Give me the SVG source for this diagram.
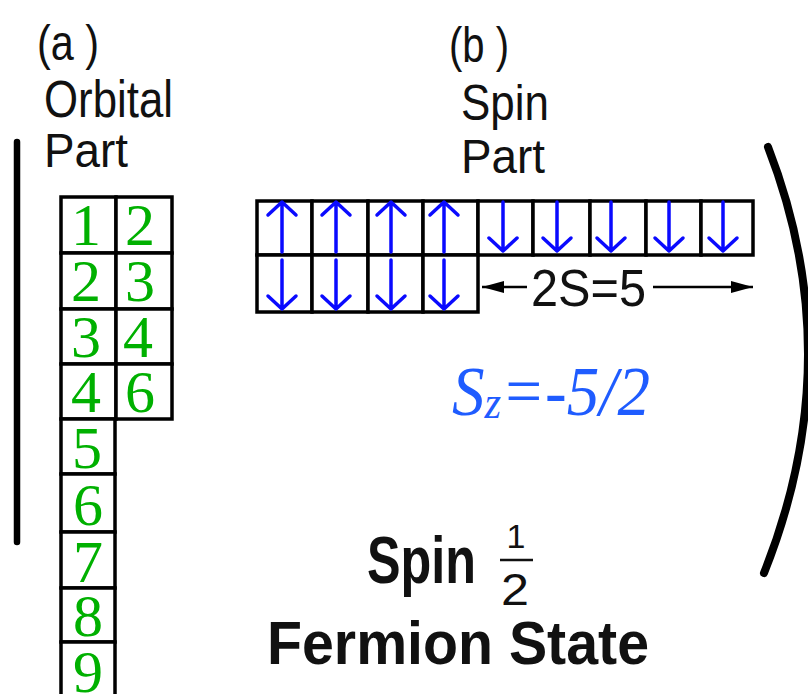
<svg xmlns="http://www.w3.org/2000/svg" width="808" height="694" viewBox="0 0 808 694">
<defs>
<style>
.lbl{font-family:"Liberation Sans","DejaVu Sans",sans-serif;fill:#111;}
.bold{font-family:"Liberation Sans","DejaVu Sans",sans-serif;font-weight:bold;fill:#111;}
.cell{fill:#fff;stroke:#000;stroke-width:3.5;}
.num{font-family:"Liberation Serif","Times New Roman",serif;font-size:60px;fill:#00b000;text-anchor:middle;}
.spin{stroke:#0a0aff;stroke-width:3.5;fill:none;stroke-linecap:round;stroke-linejoin:round;}
.dim{stroke:#000;stroke-width:2.5;fill:none;}
</style>
<marker id="ah2" viewBox="0 0 22 14" refX="22" refY="7" markerWidth="22" markerHeight="14" markerUnits="userSpaceOnUse" orient="auto">
<path d="M0,1 L22,7 L0,13 Z" fill="#000"/>
</marker>
</defs>
<rect width="808" height="694" fill="#fff"/>

<g id="labels">
<text class="lbl" x="37" y="60" font-size="50" textLength="62" lengthAdjust="spacingAndGlyphs">(a )</text>
<text class="lbl" x="44" y="117" font-size="52" textLength="129" lengthAdjust="spacingAndGlyphs">Orbital</text>
<text class="lbl" x="44" y="167" font-size="48" textLength="84" lengthAdjust="spacingAndGlyphs">Part</text>
<text class="lbl" x="449" y="62" font-size="50" textLength="60" lengthAdjust="spacingAndGlyphs">(b )</text>
<text class="lbl" x="461" y="120" font-size="50" textLength="88" lengthAdjust="spacingAndGlyphs">Spin</text>
<text class="lbl" x="461" y="173" font-size="48" textLength="84" lengthAdjust="spacingAndGlyphs">Part</text>
</g>

<g id="left-bar">
<line x1="17" y1="142" x2="17" y2="542" stroke="#000" stroke-width="6.5" stroke-linecap="round"/>
</g>

<g id="orbital-part">
<rect class="cell" x="61" y="197" width="55" height="56"/>
<rect class="cell" x="116" y="197" width="56" height="56"/>
<rect class="cell" x="61" y="253" width="55" height="56"/>
<rect class="cell" x="116" y="253" width="56" height="56"/>
<rect class="cell" x="61" y="309" width="55" height="55"/>
<rect class="cell" x="116" y="309" width="56" height="55"/>
<rect class="cell" x="61" y="364" width="55" height="55"/>
<rect class="cell" x="116" y="364" width="56" height="55"/>
<rect class="cell" x="61" y="419" width="54" height="55"/>
<rect class="cell" x="61" y="474" width="54" height="58"/>
<rect class="cell" x="61" y="532" width="54" height="56"/>
<rect class="cell" x="61" y="588" width="54" height="54"/>
<rect class="cell" x="61" y="642" width="54" height="60"/>
<text class="num" x="86" y="245">1</text>
<text class="num" x="140" y="245">2</text>
<text class="num" x="86" y="301">2</text>
<text class="num" x="140" y="301">3</text>
<text class="num" x="86" y="357">3</text>
<text class="num" x="138" y="357">4</text>
<text class="num" x="86" y="412">4</text>
<text class="num" x="140" y="412">6</text>
<text class="num" x="87" y="468">5</text>
<text class="num" x="88" y="525">6</text>
<text class="num" x="88" y="582">7</text>
<text class="num" x="88" y="636">8</text>
<text class="num" x="88" y="692">9</text>
</g>

<g id="spin-part">
<rect class="cell" x="257" y="201" width="55" height="54"/>
<rect class="cell" x="312" y="201" width="56" height="54"/>
<rect class="cell" x="368" y="201" width="55" height="54"/>
<rect class="cell" x="423" y="201" width="55" height="54"/>
<rect class="cell" x="478" y="201" width="55" height="54"/>
<rect class="cell" x="533" y="201" width="57" height="54"/>
<rect class="cell" x="590" y="201" width="56" height="54"/>
<rect class="cell" x="646" y="201" width="55" height="54"/>
<rect class="cell" x="701" y="201" width="52" height="54"/>
<rect class="cell" x="257" y="255" width="55" height="57"/>
<rect class="cell" x="312" y="255" width="56" height="57"/>
<rect class="cell" x="368" y="255" width="55" height="57"/>
<rect class="cell" x="423" y="255" width="55" height="57"/>
<path class="spin" d="M282,252 V202 M268,215 L282,202 L296,215"/>
<path class="spin" d="M336,252 V202 M322,215 L336,202 L350,215"/>
<path class="spin" d="M391,252 V202 M377,215 L391,202 L405,215"/>
<path class="spin" d="M444,252 V202 M430,215 L444,202 L458,215"/>
<path class="spin" d="M503,202 V251 M489,238 L503,251 L517,238"/>
<path class="spin" d="M557,202 V251 M543,238 L557,251 L571,238"/>
<path class="spin" d="M611,202 V251 M597,238 L611,251 L625,238"/>
<path class="spin" d="M669,202 V251 M655,238 L669,251 L683,238"/>
<path class="spin" d="M723,202 V251 M709,238 L723,251 L737,238"/>
<path class="spin" d="M282,260 V309 M268,296 L282,309 L296,296"/>
<path class="spin" d="M336,260 V309 M322,296 L336,309 L350,296"/>
<path class="spin" d="M391,260 V309 M377,296 L391,309 L405,296"/>
<path class="spin" d="M444,260 V309 M430,296 L444,309 L458,296"/>
</g>

<g id="connectors">
<line class="dim" x1="527" y1="287" x2="482" y2="287" marker-end="url(#ah2)"/>
<line class="dim" x1="653" y1="287" x2="753" y2="287" marker-end="url(#ah2)"/>
</g>
<g id="dim-label">
<text class="lbl" x="531" y="306" font-size="52" textLength="115" lengthAdjust="spacingAndGlyphs">2S=5</text>
</g>

<g id="sz">
<text x="452" y="415" font-family="'Liberation Serif','Times New Roman',serif" font-style="italic" font-size="70" fill="#1f5cff" textLength="198" lengthAdjust="spacingAndGlyphs">S<tspan font-size="46" dy="3">z</tspan><tspan dy="-3">=-5/2</tspan></text>
</g>

<g id="bracket">
<path d="M768,147 Q850,358 764,573" stroke="#000" stroke-width="8" fill="none" stroke-linecap="round"/>
</g>

<g id="title">
<text class="bold" x="367" y="583" font-size="66" textLength="109" lengthAdjust="spacingAndGlyphs">Spin</text>
<text class="lbl" x="516" y="548" font-size="34" text-anchor="middle">1</text>
<line x1="500" y1="560" x2="533" y2="560" stroke="#111" stroke-width="2.5"/>
<text class="lbl" x="501" y="605" font-size="44" textLength="28" lengthAdjust="spacingAndGlyphs">2</text>
<text class="bold" x="267" y="664" font-size="62" textLength="382" lengthAdjust="spacingAndGlyphs">Fermion State</text>
</g>
</svg>
